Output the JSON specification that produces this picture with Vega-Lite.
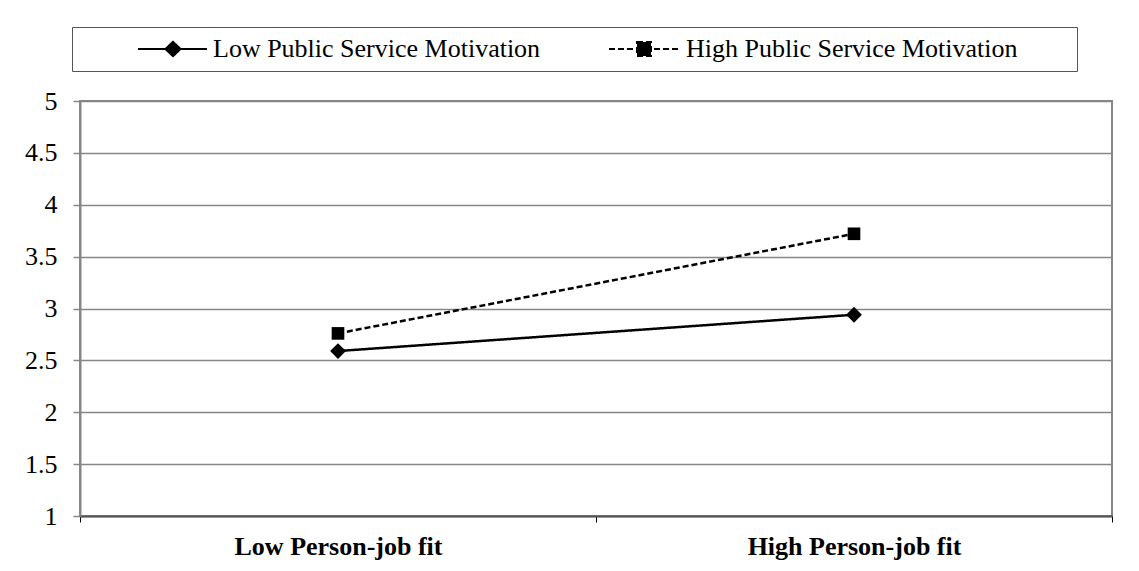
{
  "$schema": "https://vega.github.io/schema/vega-lite/v6.json",
  "width": 1032,
  "height": 415,
  "autosize": {"type": "none"},
  "padding": {"left": 80, "top": 101, "right": 27, "bottom": 55},
  "background": "white",
  "config": {
    "font": "Liberation Serif",
    "view": {"stroke": "#868686", "strokeWidth": 2}
  },
  "data": {
    "values": [
      {"fit": "Low Person-job fit", "series": "Low Public Service Motivation", "value": 2.59},
      {"fit": "High Person-job fit", "series": "Low Public Service Motivation", "value": 2.94},
      {"fit": "Low Person-job fit", "series": "High Public Service Motivation", "value": 2.76},
      {"fit": "High Person-job fit", "series": "High Public Service Motivation", "value": 3.72}
    ]
  },
  "encoding": {
    "x": {
      "field": "fit",
      "type": "nominal",
      "sort": ["Low Person-job fit", "High Person-job fit"],
      "scale": {"paddingInner": 0, "paddingOuter": 0},
      "axis": {
        "title": null,
        "labelAngle": 0,
        "labelFont": "Liberation Serif",
        "labelFontSize": 26,
        "labelFontWeight": "bold",
        "labelColor": "black",
        "labelPadding": 11,
        "labelLimit": 600,
        "tickBand": "extent",
        "tickColor": "black",
        "tickSize": 6,
        "tickWidth": 1,
        "domainColor": "#555555",
        "domainWidth": 2
      }
    },
    "y": {
      "field": "value",
      "type": "quantitative",
      "scale": {"domain": [1, 5], "nice": false, "zero": false},
      "axis": {
        "title": null,
        "values": [1, 1.5, 2, 2.5, 3, 3.5, 4, 4.5, 5],
        "format": "~r",
        "labelFont": "Liberation Serif",
        "labelFontSize": 26,
        "labelColor": "black",
        "labelPadding": 16,
        "labelFlush": false,
        "tickColor": "#868686",
        "tickSize": 7,
        "tickWidth": 1.5,
        "domainColor": "#868686",
        "domainWidth": 2,
        "grid": true,
        "gridColor": "#868686",
        "gridWidth": 1.5
      }
    }
  },
  "layer": [
    {
      "mark": {"type": "line", "color": "black", "strokeWidth": 2.5},
      "encoding": {
        "strokeDash": {
          "field": "series",
          "type": "nominal",
          "scale": {
            "domain": ["Low Public Service Motivation", "High Public Service Motivation"],
            "range": [[1, 0], [6, 3]]
          },
          "legend": {
            "title": null,
            "orient": "none",
            "legendX": -8,
            "legendY": -74,
            "direction": "horizontal",
            "columns": 2,
            "strokeColor": "#555555",
            "padding": 9,
            "columnPadding": 13,
            "labelFont": "Liberation Serif",
            "labelFontSize": 26,
            "labelColor": "black",
            "labelOffset": 3,
            "symbolOffset": 103,
            "labelLimit": 600,
            "symbolSize": 400,
            "symbolStrokeWidth": 2,
            "symbolStrokeColor": "black",
            "symbolFillColor": "black",
            "encode": {
              "symbols": {
                "update": {
                  "shape": {"signal": "datum.value === 'Low Public Service Motivation' ? 'M-5.9,0H1M-3.15,0L-2.4,-0.72L-1.65,0L-2.4,0.72Z' : 'M39.4,0M-6.1,0H1M-3.3,-0.7H-1.9V0.7H-3.3Z'"},
                  "fill": {"value": "black"},
                  "stroke": {"value": "black"}
                }
              }
            }
          }
        }
      }
    },
    {
      "transform": [{"filter": "datum.series === 'Low Public Service Motivation'"}],
      "mark": {"type": "point", "shape": "diamond", "size": 250, "filled": true, "color": "black", "opacity": 1}
    },
    {
      "transform": [{"filter": "datum.series === 'High Public Service Motivation'"}],
      "mark": {"type": "point", "shape": "square", "size": 160, "filled": true, "color": "black", "opacity": 1}
    }
  ]
}
